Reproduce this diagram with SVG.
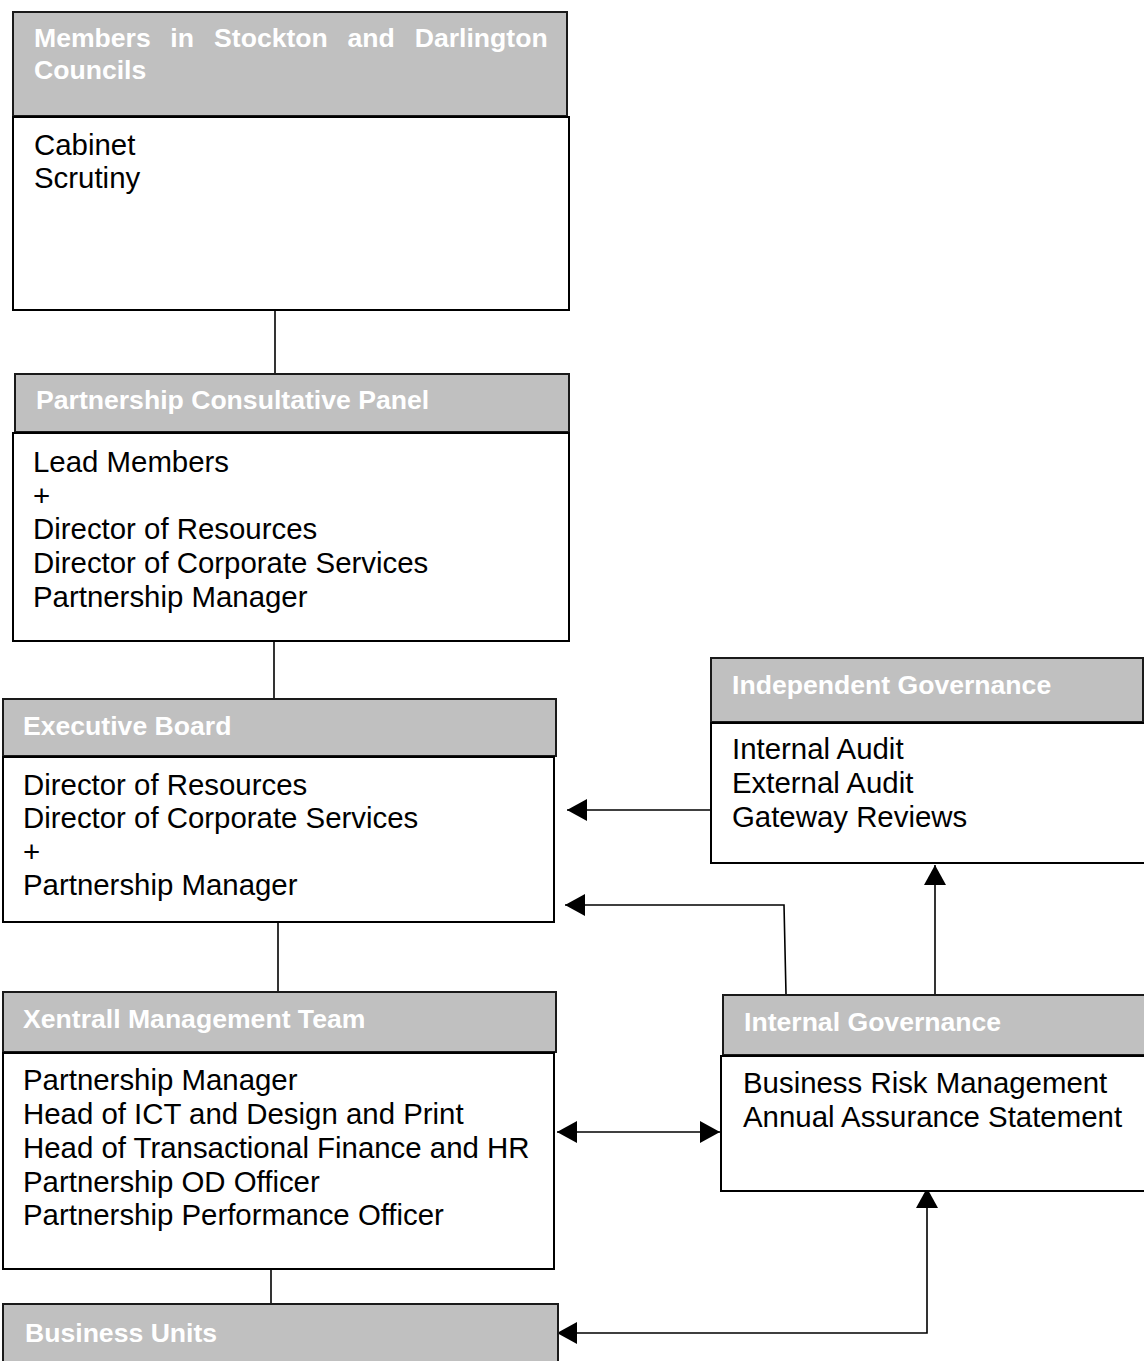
<svg xmlns="http://www.w3.org/2000/svg" width="1144" height="1361" viewBox="0 0 1144 1361">
<style>
.hd{fill:#c0c0c0;stroke:#1a1a1a;stroke-width:2}
.bd{fill:#fff;stroke:#000;stroke-width:2}
.ht{font-family:"Liberation Sans",Arial,sans-serif;font-weight:bold;font-size:26.6px;fill:#fff}
.bt{font-family:"Liberation Sans",Arial,sans-serif;font-size:29.4px;fill:#000}
.ln{fill:none;stroke:#000;stroke-width:1.6}
</style>
<defs>
<marker id="ah" viewBox="0 0 20 22" refX="20" refY="11" markerWidth="20" markerHeight="22" markerUnits="userSpaceOnUse" orient="auto-start-reverse">
<path d="M0,0 L20,11 L0,22 z" fill="#000"/>
</marker>
</defs>
<rect width="1144" height="1361" fill="#fff"/>
<g id="connectors">
<line class="ln" x1="275" y1="310" x2="275" y2="373"/>
<line class="ln" x1="274" y1="641" x2="274" y2="699"/>
<line class="ln" x1="278" y1="922" x2="278" y2="991"/>
<line class="ln" x1="271" y1="1269" x2="271" y2="1303"/>
<line class="ln" x1="711" y1="810" x2="567" y2="810" marker-end="url(#ah)"/>
<polyline class="ln" points="786,994 784,905 565,905" marker-end="url(#ah)"/>
<line class="ln" x1="935" y1="995" x2="935" y2="865" marker-end="url(#ah)"/>
<line class="ln" x1="557" y1="1132" x2="720" y2="1132" marker-start="url(#ah)" marker-end="url(#ah)"/>
<polyline class="ln" points="557,1333 927,1333 927,1188" marker-start="url(#ah)" marker-end="url(#ah)"/>
</g>
<g id="members">
<rect class="hd" x="13" y="12" width="554" height="104"/>
<rect class="bd" x="13" y="117" width="556" height="193"/>
<text class="ht" y="47"><tspan x="34">Members</tspan><tspan x="170.3">in</tspan><tspan x="214.1">Stockton</tspan><tspan x="347.4">and</tspan><tspan x="414.7">Darlington</tspan></text>
<text class="ht" x="34" y="79">Councils</text>
<text class="bt" x="34" y="155">Cabinet</text>
<text class="bt" x="34" y="188">Scrutiny</text>
</g>
<g id="pcp">
<rect class="hd" x="15" y="374" width="554" height="58"/>
<rect class="bd" x="13" y="433" width="556" height="208"/>
<text class="ht" x="36" y="409">Partnership Consultative Panel</text>
<text class="bt" x="33" y="472">Lead Members</text>
<text class="bt" x="33" y="506">+</text>
<text class="bt" x="33" y="539">Director of Resources</text>
<text class="bt" x="33" y="573">Director of Corporate Services</text>
<text class="bt" x="33" y="607">Partnership Manager</text>
</g>
<g id="exec">
<rect class="hd" x="3" y="699" width="553" height="57"/>
<rect class="bd" x="3" y="757" width="551" height="165"/>
<text class="ht" x="23" y="735">Executive Board</text>
<text class="bt" x="23" y="795">Director of Resources</text>
<text class="bt" x="23" y="828">Director of Corporate Services</text>
<text class="bt" x="23" y="862">+</text>
<text class="bt" x="23" y="895">Partnership Manager</text>
</g>
<g id="xentrall">
<rect class="hd" x="3" y="992" width="553" height="60"/>
<rect class="bd" x="3" y="1053" width="551" height="216"/>
<text class="ht" x="23" y="1028">Xentrall Management Team</text>
<text class="bt" x="23" y="1090">Partnership Manager</text>
<text class="bt" x="23" y="1124">Head of ICT and Design and Print</text>
<text class="bt" x="23" y="1158">Head of Transactional Finance and HR</text>
<text class="bt" x="23" y="1192">Partnership OD Officer</text>
<text class="bt" x="23" y="1225">Partnership Performance Officer</text>
</g>
<g id="business">
<rect class="hd" x="3" y="1304" width="555" height="70"/>
<text class="ht" x="25" y="1342">Business Units</text>
</g>
<g id="independent">
<rect class="hd" x="711" y="658" width="432" height="64"/>
<rect class="bd" x="711" y="723" width="434" height="140"/>
<text class="ht" x="732" y="694">Independent Governance</text>
<text class="bt" x="732" y="759">Internal Audit</text>
<text class="bt" x="732" y="793">External Audit</text>
<text class="bt" x="732" y="827">Gateway Reviews</text>
</g>
<g id="internal">
<rect class="hd" x="723" y="995" width="422" height="60"/>
<rect class="bd" x="721" y="1056" width="424" height="135"/>
<text class="ht" x="744" y="1031">Internal Governance</text>
<text class="bt" x="743" y="1093">Business Risk Management</text>
<text class="bt" x="743" y="1127">Annual Assurance Statement</text>
</g>
</svg>
